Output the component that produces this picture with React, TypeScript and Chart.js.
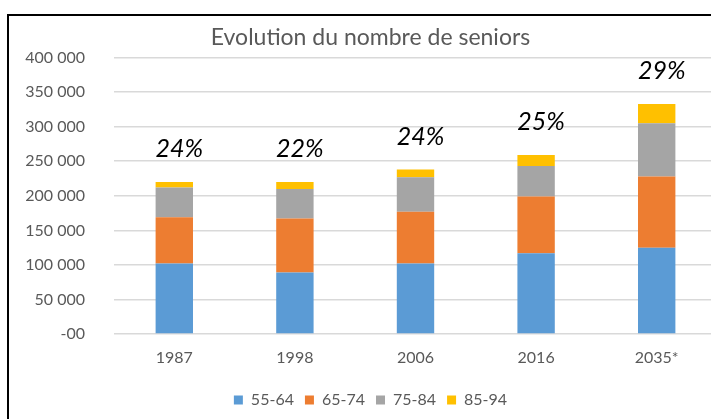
import React, { useEffect, useRef } from 'react';
import { Chart, registerables } from 'chart.js';

Chart.register(...registerables);

const years = ['1987', '1998', '2006', '2016', '2035*'];
const age55to64 = [102000, 89000, 102000, 117000, 125000];
const age65to74 = [67000, 78000, 75000, 82000, 103000];
const age75to84 = [43000, 43000, 50000, 44000, 77000];
const age85to94 = [8000, 10000, 11000, 16000, 28000];
const seniorShare = ['24%', '22%', '24%', '25%', '29%'];
const seriesNames = ['55-64', '65-74', '75-84', '85-94'];
const seriesColors = ['#5B9BD5', '#ED7D31', '#A5A5A5', '#FFC000'];

const FONT = 'Lato';
const GREY = '#595959';

const shareLabelPlugin = {
  id: 'shareLabels',
  afterDatasetsDraw(chart: any) {
    const ctx = chart.ctx;
    const meta = chart.getDatasetMeta(chart.data.datasets.length - 1);
    ctx.save();
    ctx.font = `italic 25px ${FONT}`;
    ctx.fillStyle = '#000';
    ctx.textAlign = 'center';
    ctx.textBaseline = 'middle';
    meta.data.forEach((el: any, i: number) => {
      ctx.fillText(seniorShare[i], el.x + 5, el.y - 33);
    });
    ctx.restore();
  },
};

function fmt(v: number): string {
  if (v === 0) return '-00';
  const s = String(Math.round(v));
  return s.replace(/\B(?=(\d{3})+(?!\d))/g, ' ');
}

export default function App() {
  const ref = useRef<HTMLCanvasElement>(null);

  useEffect(() => {
    if (!ref.current) return;
    const series = [age55to64, age65to74, age75to84, age85to94];
    const chart = new Chart(ref.current, {
      type: 'bar',
      data: {
        labels: years,
        datasets: series.map((d, i) => ({
          label: seriesNames[i],
          data: d,
          backgroundColor: seriesColors[i],
          borderWidth: 0,
          barPercentage: 0.31,
          categoryPercentage: 1,
        })),
      },
      options: {
        responsive: false,
        animation: false,
        layout: { padding: { left: 15, right: 22, top: 0, bottom: 0 } },
        plugins: {
          title: {
            display: true,
            text: 'Evolution du nombre de seniors',
            color: GREY,
            font: { family: FONT, size: 23, weight: 'normal' },
            padding: { top: 8, bottom: 6 },
          },
          legend: {
            position: 'bottom',
            labels: {
              boxWidth: 9,
              boxHeight: 9,
              padding: 11,
              color: GREY,
              font: { family: FONT, size: 16 },
            },
          },
          tooltip: { enabled: false },
        },
        scales: {
          x: {
            stacked: true,
            grid: { display: false, drawTicks: false },
            border: { display: false },
            ticks: { color: GREY, font: { family: FONT, size: 16 }, padding: 14 },
            afterFit: (scale: any) => {
              scale.height = 47;
            },
          },
          y: {
            stacked: true,
            min: 0,
            max: 400000,
            border: { display: false },
            grid: { color: '#d9d9d9', lineWidth: 1.6, drawTicks: false },
            ticks: {
              stepSize: 50000,
              color: GREY,
              padding: 29,
              font: { family: FONT, size: 16 },
              callback: (v: any) => fmt(Number(v)),
            },
            afterFit: (scale: any) => {
              scale.width = 90;
            },
          },
        },
      },
      plugins: [shareLabelPlugin],
    });
    return () => chart.destroy();
  }, []);

  return (
    <div style={{ position: 'fixed', left: 0, top: 0, width: 711, height: 419, overflow: 'hidden', background: '#fff' }}>
      <div
        style={{
          position: 'absolute',
          left: 7,
          top: 14,
          width: 744,
          height: 430,
          border: '2px solid #000',
          boxSizing: 'border-box',
        }}
      >
        <canvas ref={ref} width={730} height={402} style={{ display: 'block' }} />
      </div>
    </div>
  );
}
